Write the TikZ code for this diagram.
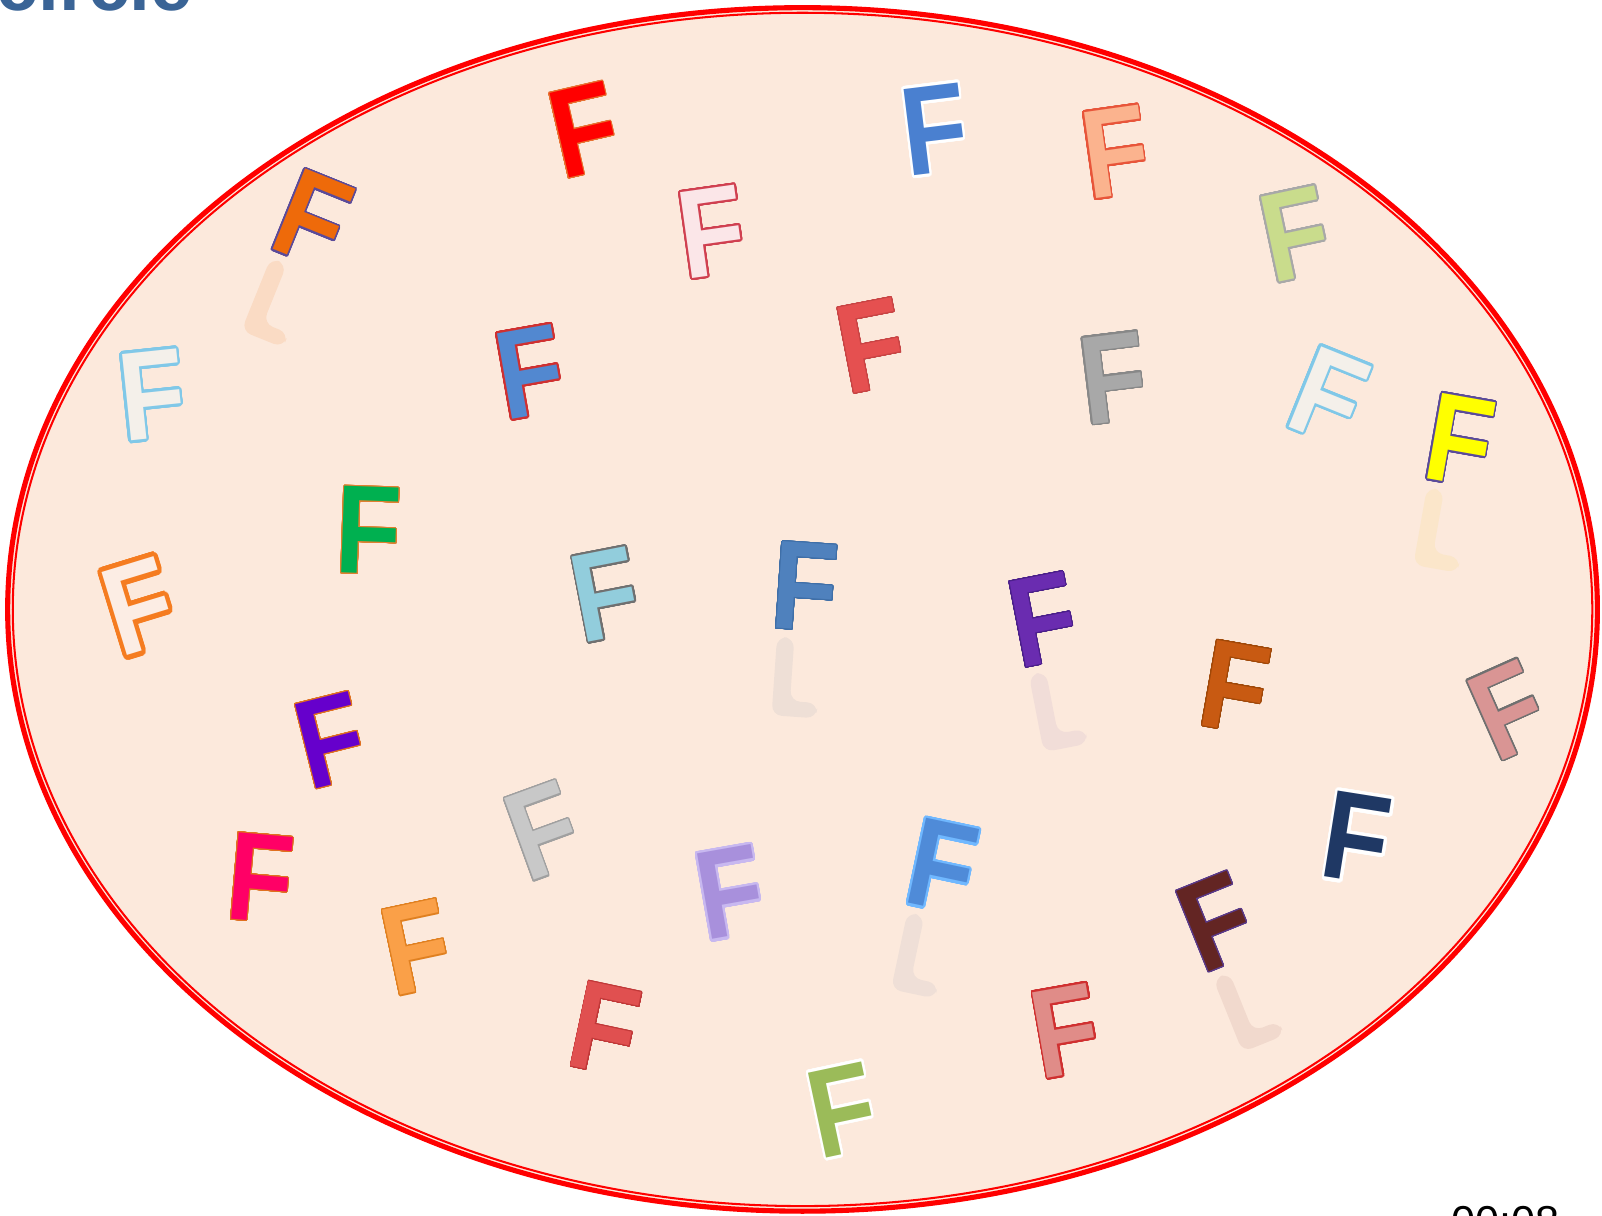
\documentclass[tikz,border=0pt]{standalone}
\usepackage{fontspec}
\setmainfont{Liberation Sans}
\usepackage{xcolor}
\usepackage[copies]{contour}
\usepackage{tikz}
\usetikzlibrary{calc}
\definecolor{peach}{RGB}{252, 233, 220}
\definecolor{rimRed}{RGB}{255, 0, 0}
\definecolor{titleBlue}{RGB}{58, 100, 150}
\contournumber{32}

\begin{document}
\begin{tikzpicture}[
  x=0.3pt, y=0.3pt,
  letter/.style={xscale=0.85, inner sep=0pt, font=\fontsize{37}{37}\selectfont\bfseries},
  mirror/.style={opacity=0.11, rounded corners=3pt}
]
  \useasboundingbox (0,0) rectangle (1568,1190);
  \clip (0,0) rectangle (1568,1190);
  % Cut-off texts at the edges
  \node[anchor=base west, inner sep=0pt, text=titleBlue, font=\fontsize{22}{22}\selectfont\bfseries] (title) at (-4,1180) {circle};
  \node[anchor=base west, inner sep=0pt, font=\fontsize{12.7}{12.7}\selectfont] (clock) at (1420,-20) {00:08};
  % The set
  \fill[peach] (785.5,593.5) ellipse [x radius=780, y radius=591];
  \draw[rimRed, line width=1.5pt] (785.5,593.5) ellipse [x radius=778, y radius=589];
  \draw[rimRed, line width=0.6pt] (785.5,593.5) ellipse [x radius=773, y radius=584];
  % Faded mirror images under some letters
  \foreach \x/\y/\a/\c in {
    306/215/-22/EE6A0A,
    1429/432/-10/F5D040,
    788/575/-4/7F8FA8,
    1021/607/11/A080B8,
    922/849/-12/8A96B0,
    1191/903/22/A05A5A%
  } {
    \definecolor{mcol}{HTML}{\c}
    \begin{scope}[shift={(\x,1190-\y)}, rotate=\a]
      \fill[mirror, mcol] (-24,-50) -- (-7,-50) -- (-7,-112) -- (20,-112)
        -- (20,-127) -- (-24,-127) -- cycle;
    \end{scope}
  }
  % The elements: x/y/angle/fill/outline/outline width
  \foreach \x/\y/\a/\fc/\oc/\w [count=\i] in {
    572/128/13/FF0000/E87030/0.3,
    915/128/7/4A80D0/FFFFFF/0.8,
    1092/150/8/FBB38E/E8553A/0.6,
    1268/230/12/C9DC8C/A8A8A8/0.6,
    306/215/-22/EE6A0A/5A4A9A/0.5,
    697/228/8/FBE6E8/D04050/0.6,
    149/388/6/F4F0EA/80C8E8/0.8,
    519/365/10/5288D0/D03030/0.6,
    853/339/11/E55050/C84444/0.3,
    1090/371/7/A8A8A8/888888/0.5,
    1300/389/-22/F4F0EA/80C8E8/0.8,
    1429/432/-10/FFFF00/5A4A9A/0.5,
    361/520/-2/00B050/E08030/0.3,
    137/596/17/FCEDE4/F57C20/1.4,
    593/583/11/92CDDC/707070/0.5,
    788/575/-4/4F81BD/3F6FA8/0.3,
    1021/607/11/6A2CB0/4B1F8A/0.3,
    1209/673/-10/C85A12/A04808/0.3,
    1477/696/24/D99594/707070/0.5,
    324/725/14/6600CC/E07020/0.3,
    532/814/20/C8C8C8/A0A0A0/0.4,
    255/860/-5/FF0066/E07020/0.3,
    408/928/12/FAA048/E08020/0.4,
    715/875/10/A890DC/C8B8F0/0.8,
    922/849/-12/4F8BD8/70B8FF/0.7,
    1328/822/-9/1F3864/FFFFFF/1.0,
    1191/903/22/632523/5A3A8A/0.3,
    592/1008/-12/E05050/C03838/0.3,
    1043/1010/10/E08C88/D03030/0.6,
    825/1088/12/9BBB59/FFFFFF/0.8%
  } {
    \definecolor{fcol}{HTML}{\fc}
    \definecolor{ocol}{HTML}{\oc}
    \contourlength{\w pt}
    \node[rotate=\a, letter, text=fcol] (f\i) at (\x,1190-\y) {\contour{ocol}{F}};
  }
\end{tikzpicture}
\end{document}
